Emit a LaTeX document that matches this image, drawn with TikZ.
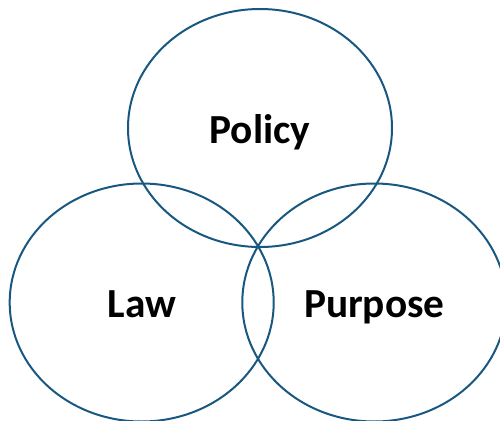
\documentclass[tikz,border=0pt]{standalone}
\usepackage{fontspec}
\setsansfont{Carlito}
\usetikzlibrary{shapes.geometric,positioning}

\definecolor{vennBlue}{RGB}{24,88,128}

\begin{document}
\begin{tikzpicture}[
    x=0.75pt, y=-0.75pt,
    font=\sffamily\bfseries,
    venn/.style ={ellipse, draw=vennBlue, line width=1.5pt, minimum width=198pt, minimum height=178.5pt, inner sep=0pt},
    lbl/.style  ={anchor=base, font=\sffamily\bfseries\fontsize{31}{36}\selectfont, inner sep=0pt},
]

\useasboundingbox (0,0) rectangle (500,421);

% ---------- Three sets ----------
\node[venn] (policy)  at (260,128) {};
\node[venn] (law)     at (141.7,302.5) {};
\node[venn] (purpose) at (374.3,302.5) {};

% ---------- Labels ----------
\node[lbl] (policytxt)  at ([yshift=-11.5pt]policy.center)  {Policy};
\node[lbl] (lawtxt)     at ([yshift=-11pt]law.center)       {Law};
\node[lbl] (purposetxt) at ([yshift=-11pt]purpose.center)   {Purpose};

\end{tikzpicture}
\end{document}
